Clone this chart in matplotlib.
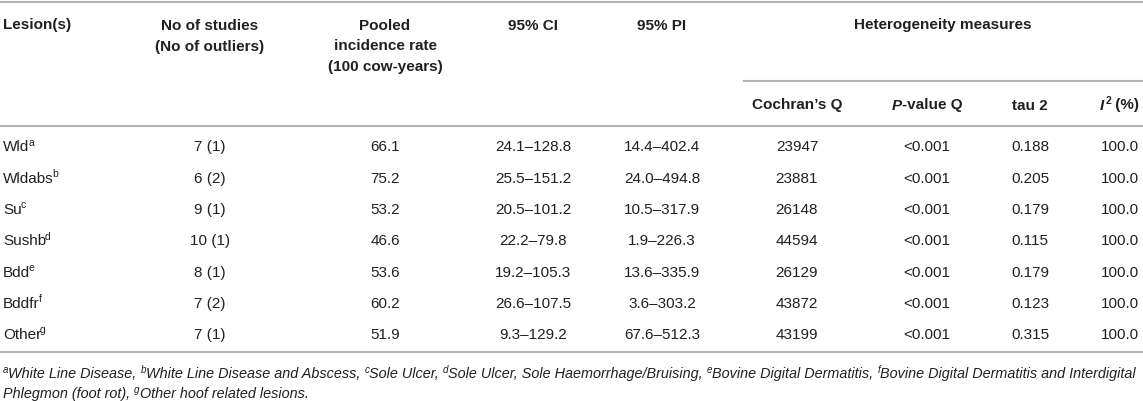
import matplotlib
matplotlib.use("Agg")
import matplotlib.pyplot as plt

plt.rcParams['font.family'] = ['Liberation Sans', 'DejaVu Sans']

# ---------------- data ----------------
lesions = ["Wld", "Wldabs", "Su", "Sushb", "Bdd", "Bddfr", "Other"]
lesion_sups = ["a", "b", "c", "d", "e", "f", "g"]
n_studies = [7, 6, 9, 10, 8, 7, 7]
n_outliers = [1, 2, 1, 1, 1, 2, 1]
pooled_rate = [66.1, 75.2, 53.2, 46.6, 53.6, 60.2, 51.9]
ci_low = [24.1, 25.5, 20.5, 22.2, 19.2, 26.6, 9.3]
ci_high = [128.8, 151.2, 101.2, 79.8, 105.3, 107.5, 129.2]
pi_low = [14.4, 24.0, 10.5, 1.9, 13.6, 3.6, 67.6]
pi_high = [402.4, 494.8, 317.9, 226.3, 335.9, 303.2, 512.3]
cochran_q = [23947, 23881, 26148, 44594, 26129, 43872, 43199]
p_value_q = ["<0.001"] * 7
tau2 = [0.188, 0.205, 0.179, 0.115, 0.179, 0.123, 0.315]
i2 = [100.0] * 7
footnote_defs = ["White Line Disease", "White Line Disease and Abscess", "Sole Ulcer",
                 "Sole Ulcer, Sole Haemorrhage/Bruising", "Bovine Digital Dermatitis",
                 "Bovine Digital Dermatitis and Interdigital Phlegmon (foot rot)",
                 "Other hoof related lesions"]

# ---------------- layout ----------------
W, H = 1143, 402
FS = 11.0
TXT = '#231f20'
LINE = '#b4b4b4'
fig = plt.figure(figsize=(W / 100, H / 100), dpi=100)
ax = fig.add_axes([0, 0, 1, 1])
ax.set_xlim(0, W)
ax.set_ylim(H, 0)
ax.axis('off')
renderer = fig.canvas.get_renderer()


def seg_width(s, fs, weight, style):
    t1 = ax.text(0, 0, "|" + s + "|", fontsize=fs, weight=weight, style=style)
    t2 = ax.text(0, 0, "||", fontsize=fs, weight=weight, style=style)
    w = t1.get_window_extent(renderer).width - t2.get_window_extent(renderer).width
    t1.remove(); t2.remove()
    return w


def rich(x, yc, segs, ha='left', fs=FS, kern=0.0):
    """segs: list of (text, weight, style, sup)"""
    px = fs * 100 / 72
    base = yc + 0.36 * px
    info = []
    total = 0
    for k, (s, w, st, sup) in enumerate(segs):
        f = fs * 0.68 if sup else fs
        wd = seg_width(s, f, w, st)
        pre = -kern if (sup and k > 0) else 0.0
        info.append((s, w, st, sup, f, wd, pre))
        total += wd + pre
    if ha == 'center':
        x0 = x - total / 2
    elif ha == 'right':
        x0 = x - total
    else:
        x0 = x
    for s, w, st, sup, f, wd, pre in info:
        x0 += pre
        yy = base - 0.38 * px if sup else base
        ax.text(x0, yy, s, fontsize=f, weight=w, style=st, va='baseline', ha='left', color=TXT)
        x0 += wd
    return total


def hline(x0, x1, y):
    ax.plot([x0, x1], [y, y], color=LINE, lw=1.5, solid_capstyle='butt')


# columns
X_LES = 3
X_STU = 210
X_POOL = 385
X_CI = 533
X_PI = 662
X_CQ = 797
X_PV = 927
X_TAU = 1030
X_I2 = 1139

# rules
hline(0, W, 3)
hline(743, W, 82)
hline(0, W, 127)
hline(0, W, 353)

# header
B = 'bold'
N = 'normal'
I = 'italic'
rich(X_LES, 24, [("Lesion(s)", B, N, False)])
rich(X_STU, 24, [("No of studies", B, N, False)], 'center')
rich(X_STU, 45, [("(No of outliers)", B, N, False)], 'center')
rich(X_POOL, 24, [("Pooled", B, N, False)], 'center')
rich(X_POOL, 45, [("incidence rate", B, N, False)], 'center')
rich(X_POOL, 66, [("(100 cow-years)", B, N, False)], 'center')
rich(X_CI, 24, [("95% CI", B, N, False)], 'center')
rich(X_PI, 24, [("95% PI", B, N, False)], 'center')
rich((743 + W) / 2, 24, [("Heterogeneity measures", B, N, False)], 'center')
rich(X_CQ, 104, [("Cochran\u2019s Q", B, N, False)], 'center')
rich(X_PV, 104, [("P", B, I, False), ("-value Q", B, N, False)], 'center')
rich(X_TAU, 104, [("tau 2", B, N, False)], 'center')
rich(X_I2, 104, [("I", B, I, False), ("2", B, N, True), (" (%)", B, N, False)], 'right', kern=-1.0)

# body
y0, dy = 146, 31.3
for i in range(len(lesions)):
    y = y0 + i * dy
    rich(X_LES, y, [(lesions[i], N, N, False), (lesion_sups[i], N, N, True)], kern=1.2)
    rich(X_STU, y, [(f"{n_studies[i]} ({n_outliers[i]})", N, N, False)], 'center')
    rich(X_POOL, y, [(f"{pooled_rate[i]:.1f}", N, N, False)], 'center')
    rich(X_CI, y, [(f"{ci_low[i]:.1f}\u2013{ci_high[i]:.1f}", N, N, False)], 'center')
    rich(X_PI, y, [(f"{pi_low[i]:.1f}\u2013{pi_high[i]:.1f}", N, N, False)], 'center')
    rich(X_CQ, y, [(f"{cochran_q[i]}", N, N, False)], 'center')
    rich(X_PV, y, [(p_value_q[i], N, N, False)], 'center')
    rich(X_TAU, y, [(f"{tau2[i]:.3f}", N, N, False)], 'center')
    rich(X_I2, y, [(f"{i2[i]:.1f}", N, N, False)], 'right')

# footnotes
line1, line2 = [], []
for k, (sup, d) in enumerate(zip(lesion_sups, footnote_defs)):
    if k == 5:
        a, b = d.split("Interdigital ")
        line1 += [(sup, N, I, True), (a + "Interdigital", N, I, False)]
        line2 += [(b + ", ", N, I, False)]
    elif k < 5:
        line1 += [(sup, N, I, True), (d + ", ", N, I, False)]
    else:
        line2 += [(sup, N, I, True), (d + ".", N, I, False)]

# fit first line to span the table width
tot = sum(seg_width(s, FS * 0.68 if sp else FS, w, st) for s, w, st, sp in line1)
ffs = FS * (1136 - X_LES) / tot
rich(X_LES, 373, line1, fs=ffs)
rich(X_LES, 393, line2, fs=ffs)

fig.savefig("out.png", dpi=100)
